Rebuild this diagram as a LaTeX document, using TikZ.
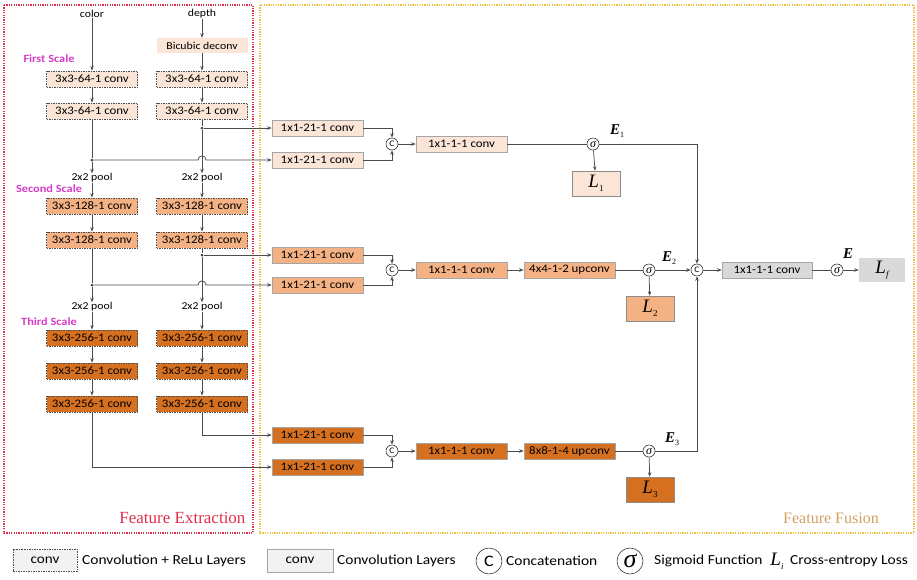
\documentclass[tikz,border=0pt]{standalone}
\usepackage{fontspec}
\setmainfont{Carlito}[FakeStretch=1.12]
\newfontfamily\seriff{Liberation Serif}
\usetikzlibrary{arrows.meta}
\definecolor{cA}{HTML}{FBE5D6}
\definecolor{cB}{HTML}{F4B183}
\definecolor{cC}{HTML}{D47020}
\definecolor{cG}{HTML}{D9D9D9}
\definecolor{cL}{HTML}{F2F2F2}
\definecolor{magn}{HTML}{D63CC8}
\definecolor{redb}{HTML}{E0304A}
\definecolor{yelb}{HTML}{F0C040}
\definecolor{fus}{HTML}{D4A060}
\newcommand{\Elab}[1]{{\seriff\bfseries\itshape\fontsize{15}{15}\selectfont E}\raisebox{-3pt}{\seriff\fontsize{8}{8}\selectfont #1}}
\newcommand{\Llab}[1]{{\seriff\itshape\fontsize{19}{19}\selectfont L}\raisebox{-4pt}{\seriff\fontsize{9}{9}\selectfont #1}}
\tikzset{
  base/.style={minimum width=91pt, minimum height=16pt, inner sep=0pt, font=\fontsize{11.5}{12}\selectfont},
  relu/.style={base, draw=black!70, dash pattern=on 1.5pt off 1pt, line width=0.7pt},
  plain/.style={base, draw=black!35, line width=0.5pt},
  circ/.style={circle, draw=black!80, minimum size=12pt, inner sep=0pt, line width=0.6pt, font=\fontsize{8.5}{8.5}\selectfont},
  sig/.style={circ, font=\seriff\itshape\fontsize{12}{12}\selectfont},
  lbox/.style={minimum width=48pt, minimum height=25pt, inner sep=0pt, draw=black!45, line width=0.5pt},
  conn/.style={draw=black!70, line width=0.75pt},
  arr/.style={conn, -{Stealth[length=4.5pt,width=3.5pt]}},
  dotn/.style={circle, fill=black!75, inner sep=0pt, minimum size=3pt},
  lab/.style={inner sep=0pt, font=\fontsize{10.5}{12}\selectfont},
  scl/.style={inner sep=0pt, text=magn, font=\fontsize{11}{12}\selectfont\bfseries},
  leg/.style={anchor=west, inner sep=0pt, font=\fontsize{13.8}{15}\selectfont},
}
\begin{document}
\begin{tikzpicture}[x=1pt,y=-1pt]
\useasboundingbox (0,0) rectangle (917,579);
% frames
\draw[redb, line width=1.2pt, dash pattern=on 1.2pt off 1.2pt] (4,5) rectangle (253,533);
\draw[yelb, line width=1.2pt, dash pattern=on 1.2pt off 1.2pt] (260,5) rectangle (914,533);
\node[anchor=east, text=redb, font=\seriff\fontsize{17}{17}\selectfont] (fe) at (249,518) {Feature Extraction};
\node[text=fus, font=\seriff\fontsize{16}{16}\selectfont] (ff) at (831,518) {Feature Fusion};
% scale labels
\node[scl] (sc1) at (49,59) {First Scale};
\node[scl] (sc2) at (49,189) {Second Scale};
\node[scl] (sc3) at (49,322) {Third Scale};
% feature extraction
\node[lab] (color) at (92,14) {color};
\node[lab] (depth) at (202,14) {depth};
\node[base, fill=cA, minimum height=15pt, font=\fontsize{10.5}{12}\selectfont] (bic) at (202,45.5) {Bicubic deconv};
\node[relu, fill=cA] (a1) at (92,79) {3x3-64-1 conv};
\node[relu, fill=cA] (a2) at (92,111) {3x3-64-1 conv};
\node[relu, fill=cA] (b1) at (202,79) {3x3-64-1 conv};
\node[relu, fill=cA] (b2) at (202,111) {3x3-64-1 conv};
\node[dotn] (da1) at (92,160) {};
\node[dotn] (db1) at (202,128) {};
\node[lab] (pa1) at (92,178) {2x2 pool};
\node[lab] (pb1) at (202,178) {2x2 pool};
\node[relu, fill=cB] (a3) at (92,206) {3x3-128-1 conv};
\node[relu, fill=cB] (a4) at (92,240) {3x3-128-1 conv};
\node[relu, fill=cB] (b3) at (202,206) {3x3-128-1 conv};
\node[relu, fill=cB] (b4) at (202,240) {3x3-128-1 conv};
\node[dotn] (da2) at (92,285) {};
\node[dotn] (db2) at (202,255) {};
\node[lab] (pa2) at (92,307) {2x2 pool};
\node[lab] (pb2) at (202,307) {2x2 pool};
\node[relu, fill=cC] (a5) at (92,338) {3x3-256-1 conv};
\node[relu, fill=cC] (a6) at (92,371) {3x3-256-1 conv};
\node[relu, fill=cC] (a7) at (92,404) {3x3-256-1 conv};
\node[relu, fill=cC] (b5) at (202,338) {3x3-256-1 conv};
\node[relu, fill=cC] (b6) at (202,371) {3x3-256-1 conv};
\node[relu, fill=cC] (b7) at (202,404) {3x3-256-1 conv};
\coordinate (ca) at (92,467);
\coordinate (cb) at (202,435);
% feature fusion
\node[plain, fill=cA] (f1a) at (317.5,128) {1x1-21-1 conv};
\node[plain, fill=cA] (f1b) at (317.5,160) {1x1-21-1 conv};
\node[plain, fill=cB] (f2a) at (317.5,255) {1x1-21-1 conv};
\node[plain, fill=cB] (f2b) at (317.5,285) {1x1-21-1 conv};
\node[plain, fill=cC] (f3a) at (317.5,435) {1x1-21-1 conv};
\node[plain, fill=cC] (f3b) at (317.5,467) {1x1-21-1 conv};
\node[circ] (k1) at (392,144) {C};
\node[circ] (k2) at (392,270) {C};
\node[circ] (k3) at (392,451) {C};
\node[plain, fill=cA] (g1) at (461.5,144) {1x1-1-1 conv};
\node[plain, fill=cB] (g2) at (461.5,270) {1x1-1-1 conv};
\node[plain, fill=cC] (g3) at (461.5,451) {1x1-1-1 conv};
\node[plain, fill=cB] (u2) at (569.5,270) {4x4-1-2 upconv};
\node[plain, fill=cC] (u3) at (569.5,451) {8x8-1-4 upconv};
\node[sig] (s1) at (593,144) {σ};
\node[sig] (s2) at (649,270) {σ};
\node[sig] (s3) at (649,451) {σ};
\node[lbox, fill=cA] (L1) at (596,183.5) {\Llab{1}};
\node[lbox, fill=cB] (L2) at (650,308.5) {\Llab{2}};
\node[lbox, fill=cC] (L3) at (650,489.5) {\Llab{3}};
\node[circ] (sum) at (697,270) {C};
\node[plain, fill=cG, minimum width=90pt] (h) at (767,270) {1x1-1-1 conv};
\node[sig] (sf) at (837,270) {σ};
\node[lbox, fill=cG, draw=none, minimum width=46pt, minimum height=24pt] (Lf) at (882,270) {\Llab{\itshape f}};
\node[inner sep=0pt] (E1) at (617,131) {\Elab{1}};
\node[inner sep=0pt] (E2) at (669,258) {\Elab{2}};
\node[inner sep=0pt] (E3) at (672,439) {\Elab{3}};
\node[inner sep=0pt] (E) at (848,254) {{\seriff\bfseries\itshape\fontsize{15}{15}\selectfont E}};
% extraction connectors
\draw[arr] (color) -- (a1);
\draw[arr] (a1) -- (a2);
\draw[conn] (a2) -- (da1);
\draw[arr] (da1) -- (pa1);
\draw[arr] (pa1) -- (a3);
\draw[arr] (depth) -- (bic);
\draw[arr] (bic) -- (b1);
\draw[arr] (b1) -- (b2);
\draw[conn] (b2) -- (db1);
\draw[arr] (db1) -- (pb1);
\draw[arr] (pb1) -- (b3);
\draw[arr] (a3) -- (a4);
\draw[conn] (a4) -- (da2);
\draw[arr] (da2) -- (pa2);
\draw[arr] (pa2) -- (a5);
\draw[arr] (b3) -- (b4);
\draw[conn] (b4) -- (db2);
\draw[arr] (db2) -- (pb2);
\draw[arr] (pb2) -- (b5);
\draw[arr] (a5) -- (a6);
\draw[arr] (a6) -- (a7);
\draw[arr] (b5) -- (b6);
\draw[arr] (b6) -- (b7);
\draw[conn] (a7) -- (ca);
\draw[conn] (b7) -- (cb);
% to fusion
\draw[arr] (db1) -- (f1a);
\draw[arr] (da1) -- (198,160) .. controls (198,154.5) and (206,154.5) .. (206,160) -- (f1b);
\draw[arr] (db2) -- (f2a);
\draw[arr] (da2) -- (198,285) .. controls (198,279.5) and (206,279.5) .. (206,285) -- (f2b);
\draw[arr] (cb) -- (f3a);
\draw[arr] (ca) -- (f3b);
% fusion connectors
\draw[arr] (f1a) -| (k1);
\draw[arr] (f1b) -| (k1);
\draw[arr] (f2a) -| (k2);
\draw[arr] (f2b) -| (k2);
\draw[arr] (f3a) -| (k3);
\draw[arr] (f3b) -| (k3);
\draw[arr] (k1) -- (g1);
\draw[arr] (k2) -- (g2);
\draw[arr] (k3) -- (g3);
\draw[conn] (g1) -- (s1);
\draw[arr] (g2) -- (u2);
\draw[arr] (g3) -- (u3);
\draw[conn] (u2) -- (s2);
\draw[conn] (u3) -- (s3);
\draw[arr] (s1) -- (L1);
\draw[arr] (s2) -- (L2);
\draw[arr] (s3) -- (L3);
\draw[arr] (s1) -| (sum);
\draw[arr] (s2) -- (sum);
\draw[arr] (s3) -| (sum);
\draw[arr] (sum) -- (h);
\draw[conn] (h) -- (sf);
\draw[arr] (sf) -- (Lf);
% legend
\node[relu, fill=cL, minimum width=64pt, minimum height=22pt, font=\fontsize{13.5}{14}\selectfont] (lg1) at (45,560) {conv};
\node[leg] (lt1) at (82,561) {Convolution + ReLu Layers};
\node[plain, fill=cL, minimum width=66pt, minimum height=23pt, font=\fontsize{13.5}{14}\selectfont] (lg2) at (300,560.5) {conv};
\node[leg] (lt2) at (337,561) {Convolution Layers};
\node[circle, draw=black!80, line width=0.6pt, minimum size=26pt, inner sep=0pt, font=\fontsize{16}{16}\selectfont] (lg3) at (489,561) {C};
\node[leg] (lt3) at (506,561) {Concatenation};
\node[circle, draw=black!80, line width=0.6pt, minimum size=26pt, inner sep=0pt, font=\seriff\itshape\fontsize{26}{26}\selectfont] (lg4) at (630,561) {σ};
\node[leg] (lt4) at (654,561) {Sigmoid Function};
\node[inner sep=0pt] (lg5) at (777,561) {\Llab{\itshape i}};
\node[leg] (lt5) at (790,561) {Cross-entropy Loss};
\end{tikzpicture}
\end{document}
